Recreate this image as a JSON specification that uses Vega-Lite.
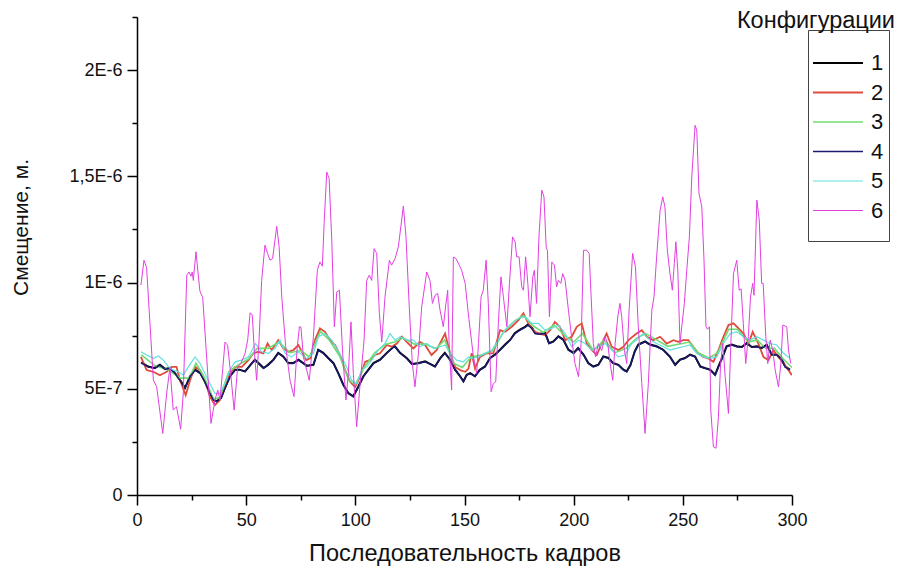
{
"$schema":"https://vega.github.io/schema/vega-lite/v6.json",
"width":655,"height":478,
"autosize":{"type":"none"},
"padding":{"left":137,"top":17,"right":106,"bottom":78},
"background":"white",
"title":{"text":"Конфигурации","anchor":"end","frame":"group","dx":103,"offset":-16,"fontSize":23.5,"font":"Liberation Sans","fontWeight":"normal","color":"#111111"},
"data":{"values":[
{"s":"1","x":2,"y":6.25e-7},{"s":"1","x":5,"y":6.05e-7},{"s":"1","x":8,"y":5.98e-7},{"s":"1","x":10.5,"y":6.13e-7},{"s":"1","x":13,"y":5.93e-7},{"s":"1","x":15,"y":5.98e-7},{"s":"1","x":17.4,"y":5.74e-7},{"s":"1","x":19.7,"y":5.42e-7},{"s":"1","x":22,"y":5.04e-7},{"s":"1","x":24.3,"y":5.59e-7},{"s":"1","x":26.6,"y":5.9e-7},{"s":"1","x":29,"y":5.74e-7},{"s":"1","x":31,"y":5.35e-7},{"s":"1","x":33.4,"y":4.8e-7},{"s":"1","x":35,"y":4.49e-7},{"s":"1","x":36.5,"y":4.41e-7},{"s":"1","x":38.5,"y":4.57e-7},{"s":"1","x":40.3,"y":5.04e-7},{"s":"1","x":42.6,"y":5.59e-7},{"s":"1","x":45,"y":5.9e-7},{"s":"1","x":47,"y":5.9e-7},{"s":"1","x":49.5,"y":5.82e-7},{"s":"1","x":52,"y":6.13e-7},{"s":"1","x":54,"y":6.37e-7},{"s":"1","x":56,"y":6.18e-7},{"s":"1","x":58,"y":5.98e-7},{"s":"1","x":60,"y":6.13e-7},{"s":"1","x":62.5,"y":6.37e-7},{"s":"1","x":64.7,"y":6.69e-7},{"s":"1","x":67,"y":6.52e-7},{"s":"1","x":69.3,"y":6.21e-7},{"s":"1","x":71.6,"y":6.21e-7},{"s":"1","x":74,"y":6.37e-7},{"s":"1","x":77.7,"y":6.09e-7},{"s":"1","x":80.8,"y":6.13e-7},{"s":"1","x":83,"y":6.84e-7},{"s":"1","x":85.3,"y":6.69e-7},{"s":"1","x":87.6,"y":6.45e-7},{"s":"1","x":90,"y":6.21e-7},{"s":"1","x":92.2,"y":5.74e-7},{"s":"1","x":94.5,"y":5.19e-7},{"s":"1","x":96.8,"y":4.8e-7},{"s":"1","x":99,"y":4.65e-7},{"s":"1","x":101.4,"y":5.11e-7},{"s":"1","x":103.7,"y":5.59e-7},{"s":"1","x":106,"y":5.9e-7},{"s":"1","x":108.3,"y":6.21e-7},{"s":"1","x":111.3,"y":6.37e-7},{"s":"1","x":114.4,"y":6.69e-7},{"s":"1","x":118,"y":7.02e-7},{"s":"1","x":120.5,"y":6.69e-7},{"s":"1","x":123.5,"y":6.45e-7},{"s":"1","x":126,"y":6.17e-7},{"s":"1","x":129,"y":6.21e-7},{"s":"1","x":132,"y":6.29e-7},{"s":"1","x":134,"y":6.18e-7},{"s":"1","x":136.5,"y":6.05e-7},{"s":"1","x":139,"y":6.45e-7},{"s":"1","x":141,"y":6.69e-7},{"s":"1","x":143.4,"y":6.37e-7},{"s":"1","x":145.7,"y":5.9e-7},{"s":"1","x":148,"y":5.59e-7},{"s":"1","x":149.5,"y":5.35e-7},{"s":"1","x":151,"y":5.66e-7},{"s":"1","x":152.6,"y":5.74e-7},{"s":"1","x":154.8,"y":5.59e-7},{"s":"1","x":157,"y":5.9e-7},{"s":"1","x":159.4,"y":6.05e-7},{"s":"1","x":161.7,"y":6.45e-7},{"s":"1","x":164,"y":6.61e-7},{"s":"1","x":166.3,"y":6.84e-7},{"s":"1","x":168.6,"y":7.08e-7},{"s":"1","x":171,"y":7.31e-7},{"s":"1","x":173,"y":7.62e-7},{"s":"1","x":175.4,"y":7.78e-7},{"s":"1","x":177.7,"y":7.91e-7},{"s":"1","x":179,"y":8.02e-7},{"s":"1","x":181,"y":7.86e-7},{"s":"1","x":182.3,"y":7.62e-7},{"s":"1","x":184.6,"y":7.59e-7},{"s":"1","x":187,"y":7.62e-7},{"s":"1","x":188.7,"y":7.15e-7},{"s":"1","x":190.7,"y":7.23e-7},{"s":"1","x":193,"y":7.47e-7},{"s":"1","x":195.3,"y":7.31e-7},{"s":"1","x":197.6,"y":6.84e-7},{"s":"1","x":200,"y":6.69e-7},{"s":"1","x":202,"y":6.92e-7},{"s":"1","x":204.5,"y":6.61e-7},{"s":"1","x":206.7,"y":6.21e-7},{"s":"1","x":209,"y":6.05e-7},{"s":"1","x":211.3,"y":6.13e-7},{"s":"1","x":213.6,"y":6.52e-7},{"s":"1","x":216,"y":6.45e-7},{"s":"1","x":218,"y":6.21e-7},{"s":"1","x":220.5,"y":6.13e-7},{"s":"1","x":222.8,"y":5.9e-7},{"s":"1","x":224.3,"y":5.82e-7},{"s":"1","x":226,"y":6.12e-7},{"s":"1","x":228,"y":6.77e-7},{"s":"1","x":229.6,"y":7.08e-7},{"s":"1","x":232.7,"y":7.23e-7},{"s":"1","x":235,"y":7.08e-7},{"s":"1","x":238,"y":7.0e-7},{"s":"1","x":241,"y":6.84e-7},{"s":"1","x":244,"y":6.52e-7},{"s":"1","x":246.5,"y":6.13e-7},{"s":"1","x":248.7,"y":6.37e-7},{"s":"1","x":251,"y":6.45e-7},{"s":"1","x":253.3,"y":6.61e-7},{"s":"1","x":255.6,"y":6.52e-7},{"s":"1","x":258,"y":6.05e-7},{"s":"1","x":260,"y":5.98e-7},{"s":"1","x":262.5,"y":5.9e-7},{"s":"1","x":264.8,"y":5.66e-7},{"s":"1","x":266.3,"y":6.05e-7},{"s":"1","x":268.3,"y":6.52e-7},{"s":"1","x":270,"y":7.0e-7},{"s":"1","x":272.4,"y":7.08e-7},{"s":"1","x":274.7,"y":7.0e-7},{"s":"1","x":277,"y":6.97e-7},{"s":"1","x":279.3,"y":7.15e-7},{"s":"1","x":281.6,"y":6.97e-7},{"s":"1","x":284,"y":7.0e-7},{"s":"1","x":286,"y":6.92e-7},{"s":"1","x":288.4,"y":7.08e-7},{"s":"1","x":290.7,"y":6.61e-7},{"s":"1","x":293,"y":6.61e-7},{"s":"1","x":295.3,"y":6.37e-7},{"s":"1","x":297,"y":6.05e-7},{"s":"1","x":299,"y":5.9e-7},
{"s":"2","x":1.8,"y":6.5e-7},{"s":"2","x":4.4,"y":5.88e-7},{"s":"2","x":7.5,"y":5.8e-7},{"s":"2","x":10.5,"y":5.64e-7},{"s":"2","x":13.6,"y":5.8e-7},{"s":"2","x":15.9,"y":6.03e-7},{"s":"2","x":18.1,"y":6.03e-7},{"s":"2","x":19.7,"y":5.4e-7},{"s":"2","x":22.3,"y":4.7e-7},{"s":"2","x":24.3,"y":5.4e-7},{"s":"2","x":26.6,"y":6.03e-7},{"s":"2","x":28.9,"y":5.88e-7},{"s":"2","x":31.1,"y":5.4e-7},{"s":"2","x":33.4,"y":4.63e-7},{"s":"2","x":35.7,"y":4.23e-7},{"s":"2","x":38,"y":4.47e-7},{"s":"2","x":40.3,"y":5.09e-7},{"s":"2","x":42.6,"y":5.72e-7},{"s":"2","x":44.9,"y":6.03e-7},{"s":"2","x":48,"y":6.03e-7},{"s":"2","x":51,"y":6.35e-7},{"s":"2","x":53.3,"y":6.67e-7},{"s":"2","x":55.6,"y":6.74e-7},{"s":"2","x":57.9,"y":6.67e-7},{"s":"2","x":59.8,"y":7.13e-7},{"s":"2","x":61.7,"y":6.82e-7},{"s":"2","x":64.7,"y":7.29e-7},{"s":"2","x":67,"y":6.9e-7},{"s":"2","x":69.3,"y":6.74e-7},{"s":"2","x":71.6,"y":6.82e-7},{"s":"2","x":73.9,"y":7.06e-7},{"s":"2","x":75.5,"y":6.75e-7},{"s":"2","x":77.5,"y":6.35e-7},{"s":"2","x":79.3,"y":6.43e-7},{"s":"2","x":81.5,"y":7.29e-7},{"s":"2","x":83.8,"y":7.84e-7},{"s":"2","x":86.1,"y":7.68e-7},{"s":"2","x":88.4,"y":7.29e-7},{"s":"2","x":90.7,"y":7.06e-7},{"s":"2","x":93,"y":6.59e-7},{"s":"2","x":95.3,"y":5.88e-7},{"s":"2","x":97.6,"y":5.33e-7},{"s":"2","x":99.9,"y":5.09e-7},{"s":"2","x":102.2,"y":5.57e-7},{"s":"2","x":104.5,"y":6.27e-7},{"s":"2","x":106.7,"y":6.35e-7},{"s":"2","x":109,"y":6.59e-7},{"s":"2","x":111.3,"y":6.67e-7},{"s":"2","x":114.4,"y":7.06e-7},{"s":"2","x":116.7,"y":6.98e-7},{"s":"2","x":119,"y":7.13e-7},{"s":"2","x":121.3,"y":7.45e-7},{"s":"2","x":123.5,"y":7.21e-7},{"s":"2","x":126.6,"y":6.9e-7},{"s":"2","x":129.6,"y":7.21e-7},{"s":"2","x":131.9,"y":7.06e-7},{"s":"2","x":134.9,"y":6.59e-7},{"s":"2","x":137.2,"y":6.82e-7},{"s":"2","x":141.1,"y":7.6e-7},{"s":"2","x":143.4,"y":6.67e-7},{"s":"2","x":145.7,"y":6.03e-7},{"s":"2","x":148,"y":5.88e-7},{"s":"2","x":150.3,"y":5.8e-7},{"s":"2","x":151.8,"y":5.95e-7},{"s":"2","x":153.3,"y":6.67e-7},{"s":"2","x":154.8,"y":5.96e-7},{"s":"2","x":157.1,"y":6.5e-7},{"s":"2","x":160.1,"y":6.67e-7},{"s":"2","x":163.2,"y":6.67e-7},{"s":"2","x":166.3,"y":7.76e-7},{"s":"2","x":168.6,"y":7.68e-7},{"s":"2","x":171.6,"y":7.92e-7},{"s":"2","x":174.7,"y":8.23e-7},{"s":"2","x":177,"y":8.55e-7},{"s":"2","x":179.2,"y":8.08e-7},{"s":"2","x":181.5,"y":7.76e-7},{"s":"2","x":183.8,"y":7.6e-7},{"s":"2","x":186.9,"y":7.53e-7},{"s":"2","x":189.2,"y":7.76e-7},{"s":"2","x":191.4,"y":8.15e-7},{"s":"2","x":193.7,"y":7.92e-7},{"s":"2","x":196.1,"y":7.29e-7},{"s":"2","x":199.1,"y":7.45e-7},{"s":"2","x":201.4,"y":7.92e-7},{"s":"2","x":203.7,"y":8.08e-7},{"s":"2","x":206,"y":7.13e-7},{"s":"2","x":208.3,"y":6.82e-7},{"s":"2","x":210.6,"y":6.59e-7},{"s":"2","x":212.8,"y":7.13e-7},{"s":"2","x":215.1,"y":7.6e-7},{"s":"2","x":217.4,"y":6.98e-7},{"s":"2","x":220.5,"y":6.82e-7},{"s":"2","x":222.8,"y":6.98e-7},{"s":"2","x":225.1,"y":7.29e-7},{"s":"2","x":228.8,"y":7.6e-7},{"s":"2","x":231.2,"y":7.76e-7},{"s":"2","x":233.5,"y":7.45e-7},{"s":"2","x":236.5,"y":7.29e-7},{"s":"2","x":239.6,"y":7.45e-7},{"s":"2","x":242.6,"y":7.13e-7},{"s":"2","x":245.7,"y":7.29e-7},{"s":"2","x":247.9,"y":7.21e-7},{"s":"2","x":250.2,"y":7.29e-7},{"s":"2","x":252.5,"y":7.29e-7},{"s":"2","x":254.8,"y":6.98e-7},{"s":"2","x":257.1,"y":6.67e-7},{"s":"2","x":259.4,"y":6.5e-7},{"s":"2","x":261.7,"y":6.43e-7},{"s":"2","x":264,"y":6.27e-7},{"s":"2","x":266.3,"y":6.82e-7},{"s":"2","x":268.6,"y":7.45e-7},{"s":"2","x":270.9,"y":8.0e-7},{"s":"2","x":273.2,"y":8.08e-7},{"s":"2","x":275.5,"y":7.84e-7},{"s":"2","x":277.8,"y":7.6e-7},{"s":"2","x":280.1,"y":7.13e-7},{"s":"2","x":282,"y":7.68e-7},{"s":"2","x":284.6,"y":7.13e-7},{"s":"2","x":286.9,"y":6.5e-7},{"s":"2","x":289.2,"y":6.35e-7},{"s":"2","x":291.5,"y":6.82e-7},{"s":"2","x":293.8,"y":6.5e-7},{"s":"2","x":296.1,"y":6.19e-7},{"s":"2","x":298.4,"y":5.88e-7},{"s":"2","x":299.9,"y":5.64e-7},
{"s":"3","x":2,"y":6.6e-7},{"s":"3","x":8,"y":6.1e-7},{"s":"3","x":14,"y":5.9e-7},{"s":"3","x":20,"y":5.5e-7},{"s":"3","x":24,"y":5.5e-7},{"s":"3","x":27,"y":6.2e-7},{"s":"3","x":31,"y":5.5e-7},{"s":"3","x":35,"y":4.5e-7},{"s":"3","x":38,"y":4.6e-7},{"s":"3","x":42,"y":5.8e-7},{"s":"3","x":46,"y":6.1e-7},{"s":"3","x":51,"y":6.4e-7},{"s":"3","x":55,"y":6.9e-7},{"s":"3","x":60,"y":6.9e-7},{"s":"3","x":65,"y":7.2e-7},{"s":"3","x":70,"y":6.7e-7},{"s":"3","x":75,"y":6.8e-7},{"s":"3","x":79,"y":6.5e-7},{"s":"3","x":84,"y":7.7e-7},{"s":"3","x":88,"y":7.3e-7},{"s":"3","x":93,"y":6.5e-7},{"s":"3","x":97,"y":5.4e-7},{"s":"3","x":100,"y":5.2e-7},{"s":"3","x":104,"y":6.0e-7},{"s":"3","x":109,"y":6.7e-7},{"s":"3","x":114,"y":7.1e-7},{"s":"3","x":118,"y":7.2e-7},{"s":"3","x":122,"y":7.4e-7},{"s":"3","x":127,"y":7.1e-7},{"s":"3","x":132,"y":7.1e-7},{"s":"3","x":137,"y":6.9e-7},{"s":"3","x":141,"y":7.3e-7},{"s":"3","x":145,"y":6.2e-7},{"s":"3","x":149,"y":6.0e-7},{"s":"3","x":153,"y":6.5e-7},{"s":"3","x":158,"y":6.6e-7},{"s":"3","x":163,"y":6.8e-7},{"s":"3","x":168,"y":7.7e-7},{"s":"3","x":173,"y":8.2e-7},{"s":"3","x":177,"y":8.45e-7},{"s":"3","x":181,"y":8.0e-7},{"s":"3","x":186,"y":7.65e-7},{"s":"3","x":191,"y":8.0e-7},{"s":"3","x":196,"y":7.5e-7},{"s":"3","x":200,"y":7.2e-7},{"s":"3","x":204,"y":7.6e-7},{"s":"3","x":209,"y":6.8e-7},{"s":"3","x":214,"y":7.3e-7},{"s":"3","x":219,"y":6.7e-7},{"s":"3","x":224,"y":6.9e-7},{"s":"3","x":229,"y":7.4e-7},{"s":"3","x":233,"y":7.6e-7},{"s":"3","x":238,"y":7.3e-7},{"s":"3","x":243,"y":7.0e-7},{"s":"3","x":248,"y":7.1e-7},{"s":"3","x":253,"y":7.2e-7},{"s":"3","x":257,"y":6.7e-7},{"s":"3","x":262,"y":6.45e-7},{"s":"3","x":266,"y":6.7e-7},{"s":"3","x":271,"y":7.8e-7},{"s":"3","x":275,"y":7.8e-7},{"s":"3","x":280,"y":7.2e-7},{"s":"3","x":284,"y":7.3e-7},{"s":"3","x":288,"y":6.9e-7},{"s":"3","x":292,"y":6.9e-7},{"s":"3","x":296,"y":6.4e-7},{"s":"3","x":300,"y":6.0e-7},
{"s":"4","x":1.8,"y":6.22e-7},{"s":"4","x":5.2,"y":6.03e-7},{"s":"4","x":8.2,"y":5.96e-7},{"s":"4","x":10.5,"y":6.11e-7},{"s":"4","x":12.8,"y":5.91e-7},{"s":"4","x":15.1,"y":5.96e-7},{"s":"4","x":17.4,"y":5.72e-7},{"s":"4","x":19.7,"y":5.4e-7},{"s":"4","x":22,"y":5.02e-7},{"s":"4","x":24.3,"y":5.57e-7},{"s":"4","x":26.6,"y":5.88e-7},{"s":"4","x":28.9,"y":5.72e-7},{"s":"4","x":31.1,"y":5.33e-7},{"s":"4","x":33.4,"y":4.78e-7},{"s":"4","x":35,"y":4.47e-7},{"s":"4","x":36.5,"y":4.39e-7},{"s":"4","x":38.5,"y":4.55e-7},{"s":"4","x":40.3,"y":5.02e-7},{"s":"4","x":42.6,"y":5.57e-7},{"s":"4","x":44.9,"y":5.88e-7},{"s":"4","x":47.2,"y":5.88e-7},{"s":"4","x":49.5,"y":5.8e-7},{"s":"4","x":51.8,"y":6.11e-7},{"s":"4","x":54,"y":6.35e-7},{"s":"4","x":55.9,"y":6.16e-7},{"s":"4","x":57.9,"y":5.96e-7},{"s":"4","x":60.2,"y":6.11e-7},{"s":"4","x":62.5,"y":6.35e-7},{"s":"4","x":64.7,"y":6.67e-7},{"s":"4","x":67,"y":6.5e-7},{"s":"4","x":69.3,"y":6.19e-7},{"s":"4","x":71.6,"y":6.19e-7},{"s":"4","x":73.9,"y":6.35e-7},{"s":"4","x":76.2,"y":6.19e-7},{"s":"4","x":77.7,"y":6.07e-7},{"s":"4","x":80.8,"y":6.11e-7},{"s":"4","x":83,"y":6.82e-7},{"s":"4","x":85.3,"y":6.67e-7},{"s":"4","x":87.6,"y":6.43e-7},{"s":"4","x":89.9,"y":6.19e-7},{"s":"4","x":92.2,"y":5.72e-7},{"s":"4","x":94.5,"y":5.17e-7},{"s":"4","x":96.8,"y":4.78e-7},{"s":"4","x":99.1,"y":4.63e-7},{"s":"4","x":101.4,"y":5.09e-7},{"s":"4","x":103.7,"y":5.57e-7},{"s":"4","x":106,"y":5.88e-7},{"s":"4","x":108.3,"y":6.19e-7},{"s":"4","x":111.3,"y":6.35e-7},{"s":"4","x":114.4,"y":6.67e-7},{"s":"4","x":117.9,"y":7.0e-7},{"s":"4","x":120.5,"y":6.67e-7},{"s":"4","x":123.5,"y":6.43e-7},{"s":"4","x":125.8,"y":6.15e-7},{"s":"4","x":128.9,"y":6.19e-7},{"s":"4","x":131.9,"y":6.27e-7},{"s":"4","x":134.2,"y":6.16e-7},{"s":"4","x":136.5,"y":6.03e-7},{"s":"4","x":138.8,"y":6.43e-7},{"s":"4","x":141.1,"y":6.67e-7},{"s":"4","x":143.4,"y":6.35e-7},{"s":"4","x":145.7,"y":5.88e-7},{"s":"4","x":148,"y":5.57e-7},{"s":"4","x":149.5,"y":5.33e-7},{"s":"4","x":151,"y":5.64e-7},{"s":"4","x":152.6,"y":5.72e-7},{"s":"4","x":154.8,"y":5.57e-7},{"s":"4","x":157.1,"y":5.88e-7},{"s":"4","x":159.4,"y":6.03e-7},{"s":"4","x":161.7,"y":6.43e-7},{"s":"4","x":164,"y":6.59e-7},{"s":"4","x":166.3,"y":6.82e-7},{"s":"4","x":168.6,"y":7.06e-7},{"s":"4","x":170.8,"y":7.29e-7},{"s":"4","x":173.2,"y":7.6e-7},{"s":"4","x":175.4,"y":7.76e-7},{"s":"4","x":177.7,"y":7.89e-7},{"s":"4","x":179.2,"y":8.0e-7},{"s":"4","x":180.8,"y":7.84e-7},{"s":"4","x":182.3,"y":7.6e-7},{"s":"4","x":184.6,"y":7.57e-7},{"s":"4","x":186.9,"y":7.6e-7},{"s":"4","x":188.7,"y":7.13e-7},{"s":"4","x":190.7,"y":7.21e-7},{"s":"4","x":193,"y":7.45e-7},{"s":"4","x":195.3,"y":7.29e-7},{"s":"4","x":197.6,"y":6.82e-7},{"s":"4","x":199.9,"y":6.67e-7},{"s":"4","x":202.2,"y":6.9e-7},{"s":"4","x":204.5,"y":6.59e-7},{"s":"4","x":206.7,"y":6.19e-7},{"s":"4","x":209,"y":6.03e-7},{"s":"4","x":211.3,"y":6.11e-7},{"s":"4","x":213.6,"y":6.5e-7},{"s":"4","x":215.9,"y":6.43e-7},{"s":"4","x":218.2,"y":6.19e-7},{"s":"4","x":220.5,"y":6.11e-7},{"s":"4","x":222.8,"y":5.88e-7},{"s":"4","x":224.3,"y":5.8e-7},{"s":"4","x":226,"y":6.1e-7},{"s":"4","x":228,"y":6.75e-7},{"s":"4","x":229.6,"y":7.06e-7},{"s":"4","x":232.7,"y":7.21e-7},{"s":"4","x":235,"y":7.06e-7},{"s":"4","x":238,"y":6.98e-7},{"s":"4","x":241.1,"y":6.82e-7},{"s":"4","x":244.2,"y":6.5e-7},{"s":"4","x":246.5,"y":6.11e-7},{"s":"4","x":248.7,"y":6.35e-7},{"s":"4","x":251,"y":6.43e-7},{"s":"4","x":253.3,"y":6.59e-7},{"s":"4","x":255.6,"y":6.5e-7},{"s":"4","x":257.9,"y":6.03e-7},{"s":"4","x":260.2,"y":5.96e-7},{"s":"4","x":262.5,"y":5.88e-7},{"s":"4","x":264.8,"y":5.64e-7},{"s":"4","x":266.3,"y":6.03e-7},{"s":"4","x":268.3,"y":6.5e-7},{"s":"4","x":270.1,"y":6.98e-7},{"s":"4","x":272.4,"y":7.06e-7},{"s":"4","x":274.7,"y":6.98e-7},{"s":"4","x":277,"y":6.95e-7},{"s":"4","x":279.3,"y":7.13e-7},{"s":"4","x":281.6,"y":6.95e-7},{"s":"4","x":283.9,"y":6.98e-7},{"s":"4","x":286.2,"y":6.9e-7},{"s":"4","x":288.4,"y":7.06e-7},{"s":"4","x":290.7,"y":6.59e-7},{"s":"4","x":293,"y":6.59e-7},{"s":"4","x":295.3,"y":6.35e-7},{"s":"4","x":296.8,"y":6.03e-7},{"s":"4","x":299.1,"y":5.88e-7},
{"s":"5","x":1.8,"y":6.74e-7},{"s":"5","x":4.4,"y":6.59e-7},{"s":"5","x":7.5,"y":6.43e-7},{"s":"5","x":9.8,"y":6.54e-7},{"s":"5","x":12.1,"y":6.35e-7},{"s":"5","x":14.4,"y":6.03e-7},{"s":"5","x":16.6,"y":5.88e-7},{"s":"5","x":18.9,"y":5.8e-7},{"s":"5","x":21.2,"y":5.64e-7},{"s":"5","x":23.5,"y":6.03e-7},{"s":"5","x":26.6,"y":6.5e-7},{"s":"5","x":28.9,"y":6.19e-7},{"s":"5","x":31.1,"y":5.72e-7},{"s":"5","x":33.4,"y":5.25e-7},{"s":"5","x":35.7,"y":4.78e-7},{"s":"5","x":38,"y":4.78e-7},{"s":"5","x":40.3,"y":5.25e-7},{"s":"5","x":42.6,"y":5.88e-7},{"s":"5","x":44.9,"y":6.27e-7},{"s":"5","x":48,"y":6.35e-7},{"s":"5","x":51,"y":6.5e-7},{"s":"5","x":54.3,"y":7.13e-7},{"s":"5","x":57.1,"y":6.74e-7},{"s":"5","x":60.2,"y":6.67e-7},{"s":"5","x":63.2,"y":6.9e-7},{"s":"5","x":65.5,"y":7.29e-7},{"s":"5","x":67.8,"y":6.67e-7},{"s":"5","x":70.8,"y":6.5e-7},{"s":"5","x":73.9,"y":6.74e-7},{"s":"5","x":76.2,"y":6.55e-7},{"s":"5","x":77.7,"y":6.43e-7},{"s":"5","x":80.8,"y":6.67e-7},{"s":"5","x":83,"y":7.45e-7},{"s":"5","x":86.1,"y":7.6e-7},{"s":"5","x":89.2,"y":7.29e-7},{"s":"5","x":91.4,"y":6.9e-7},{"s":"5","x":93.7,"y":6.5e-7},{"s":"5","x":96,"y":6.03e-7},{"s":"5","x":98.3,"y":5.4e-7},{"s":"5","x":100.6,"y":5.25e-7},{"s":"5","x":102.9,"y":5.88e-7},{"s":"5","x":105.2,"y":6.03e-7},{"s":"5","x":107.5,"y":6.35e-7},{"s":"5","x":110.5,"y":6.82e-7},{"s":"5","x":113.6,"y":7.13e-7},{"s":"5","x":115.9,"y":7.6e-7},{"s":"5","x":118.2,"y":7.29e-7},{"s":"5","x":120.5,"y":7.45e-7},{"s":"5","x":123.5,"y":7.29e-7},{"s":"5","x":126.6,"y":7.29e-7},{"s":"5","x":129.6,"y":6.98e-7},{"s":"5","x":132.7,"y":7.13e-7},{"s":"5","x":135.8,"y":6.9e-7},{"s":"5","x":138.8,"y":6.98e-7},{"s":"5","x":141.1,"y":7.06e-7},{"s":"5","x":143.4,"y":6.67e-7},{"s":"5","x":146.4,"y":6.35e-7},{"s":"5","x":149.5,"y":6.27e-7},{"s":"5","x":151.8,"y":6.5e-7},{"s":"5","x":153.3,"y":6.43e-7},{"s":"5","x":156.4,"y":6.5e-7},{"s":"5","x":159.4,"y":6.67e-7},{"s":"5","x":162.5,"y":6.82e-7},{"s":"5","x":165.5,"y":7.29e-7},{"s":"5","x":168.6,"y":7.76e-7},{"s":"5","x":171.6,"y":8.08e-7},{"s":"5","x":174.7,"y":8.31e-7},{"s":"5","x":177.7,"y":8.39e-7},{"s":"5","x":180.8,"y":8.08e-7},{"s":"5","x":183.8,"y":8.08e-7},{"s":"5","x":186.9,"y":7.76e-7},{"s":"5","x":189.9,"y":7.84e-7},{"s":"5","x":193,"y":8.0e-7},{"s":"5","x":196.1,"y":7.6e-7},{"s":"5","x":199.1,"y":6.98e-7},{"s":"5","x":202.2,"y":7.29e-7},{"s":"5","x":205.2,"y":7.13e-7},{"s":"5","x":208.3,"y":6.82e-7},{"s":"5","x":211.3,"y":6.98e-7},{"s":"5","x":214.4,"y":7.13e-7},{"s":"5","x":217.4,"y":6.82e-7},{"s":"5","x":220.5,"y":6.5e-7},{"s":"5","x":223.5,"y":6.59e-7},{"s":"5","x":226.6,"y":7.13e-7},{"s":"5","x":228.8,"y":7.29e-7},{"s":"5","x":231.9,"y":7.6e-7},{"s":"5","x":234.9,"y":7.29e-7},{"s":"5","x":238,"y":7.13e-7},{"s":"5","x":241.1,"y":6.98e-7},{"s":"5","x":244.1,"y":6.82e-7},{"s":"5","x":247.1,"y":6.9e-7},{"s":"5","x":250.2,"y":6.98e-7},{"s":"5","x":253.3,"y":7.06e-7},{"s":"5","x":256.3,"y":6.67e-7},{"s":"5","x":259.4,"y":6.5e-7},{"s":"5","x":262.5,"y":6.43e-7},{"s":"5","x":265.5,"y":6.5e-7},{"s":"5","x":268.6,"y":7.13e-7},{"s":"5","x":271.7,"y":7.6e-7},{"s":"5","x":274.7,"y":7.68e-7},{"s":"5","x":277.8,"y":7.45e-7},{"s":"5","x":280.8,"y":7.29e-7},{"s":"5","x":283.9,"y":7.45e-7},{"s":"5","x":286.9,"y":7.29e-7},{"s":"5","x":290,"y":7.13e-7},{"s":"5","x":293,"y":7.06e-7},{"s":"5","x":296.1,"y":6.67e-7},{"s":"5","x":299.1,"y":6.43e-7},
{"s":"6","x":1.8,"y":9.88e-7},{"s":"6","x":3.2,"y":11.05e-7},{"s":"6","x":4.4,"y":10.7e-7},{"s":"6","x":7.5,"y":5.4e-7},{"s":"6","x":9,"y":5.1e-7},{"s":"6","x":11.8,"y":2.9e-7},{"s":"6","x":13.6,"y":4.8e-7},{"s":"6","x":15.1,"y":6.0e-7},{"s":"6","x":16.6,"y":4.0e-7},{"s":"6","x":18.1,"y":4.15e-7},{"s":"6","x":20,"y":3.1e-7},{"s":"6","x":21.2,"y":4.8e-7},{"s":"6","x":22.8,"y":10.35e-7},{"s":"6","x":23.8,"y":10.5e-7},{"s":"6","x":24.7,"y":10.3e-7},{"s":"6","x":25.3,"y":10.5e-7},{"s":"6","x":25.8,"y":10.1e-7},{"s":"6","x":27,"y":11.45e-7},{"s":"6","x":28.8,"y":9.6e-7},{"s":"6","x":30.1,"y":9.3e-7},{"s":"6","x":33.9,"y":3.37e-7},{"s":"6","x":35.7,"y":4.47e-7},{"s":"6","x":37,"y":4.94e-7},{"s":"6","x":38,"y":4.47e-7},{"s":"6","x":39.1,"y":5.72e-7},{"s":"6","x":40.3,"y":7.2e-7},{"s":"6","x":41.5,"y":7.05e-7},{"s":"6","x":42.9,"y":5.72e-7},{"s":"6","x":44.5,"y":4.0e-7},{"s":"6","x":46.1,"y":6.03e-7},{"s":"6","x":47.6,"y":6.2e-7},{"s":"6","x":49.5,"y":6.67e-7},{"s":"6","x":50.7,"y":7.3e-7},{"s":"6","x":51.8,"y":8.58e-7},{"s":"6","x":52.8,"y":8.47e-7},{"s":"6","x":53.8,"y":6.67e-7},{"s":"6","x":54.8,"y":5.4e-7},{"s":"6","x":55.9,"y":7.3e-7},{"s":"6","x":57.1,"y":10.1e-7},{"s":"6","x":58.6,"y":11.76e-7},{"s":"6","x":59.8,"y":11.37e-7},{"s":"6","x":60.9,"y":11.05e-7},{"s":"6","x":62.1,"y":11.13e-7},{"s":"6","x":64,"y":12.65e-7},{"s":"6","x":65.1,"y":11.68e-7},{"s":"6","x":66.3,"y":9.33e-7},{"s":"6","x":68.1,"y":6.98e-7},{"s":"6","x":70.1,"y":5.4e-7},{"s":"6","x":71.9,"y":4.63e-7},{"s":"6","x":73.4,"y":6.98e-7},{"s":"6","x":74.4,"y":7.92e-7},{"s":"6","x":75.1,"y":7.9e-7},{"s":"6","x":76.2,"y":6.5e-7},{"s":"6","x":78.9,"y":5.4e-7},{"s":"6","x":80.8,"y":7.45e-7},{"s":"6","x":82.6,"y":10.58e-7},{"s":"6","x":83.8,"y":10.97e-7},{"s":"6","x":84.9,"y":10.77e-7},{"s":"6","x":85.7,"y":12.78e-7},{"s":"6","x":86.9,"y":15.2e-7},{"s":"6","x":88,"y":14.9e-7},{"s":"6","x":89.2,"y":12.0e-7},{"s":"6","x":90.4,"y":7.92e-7},{"s":"6","x":91.5,"y":9.56e-7},{"s":"6","x":92.7,"y":9.64e-7},{"s":"6","x":94.2,"y":6.67e-7},{"s":"6","x":95.7,"y":4.47e-7},{"s":"6","x":96.8,"y":5.72e-7},{"s":"6","x":98,"y":8.15e-7},{"s":"6","x":99.1,"y":5.72e-7},{"s":"6","x":100.6,"y":3.21e-7},{"s":"6","x":102.2,"y":5.25e-7},{"s":"6","x":104,"y":7.29e-7},{"s":"6","x":105.2,"y":10.1e-7},{"s":"6","x":106.4,"y":10.35e-7},{"s":"6","x":107.5,"y":10.1e-7},{"s":"6","x":108.6,"y":11.6e-7},{"s":"6","x":109.8,"y":11.37e-7},{"s":"6","x":111,"y":8.55e-7},{"s":"6","x":112.1,"y":7.2e-7},{"s":"6","x":113.6,"y":9.33e-7},{"s":"6","x":115.6,"y":11.05e-7},{"s":"6","x":116.6,"y":10.82e-7},{"s":"6","x":118.2,"y":11.13e-7},{"s":"6","x":119.7,"y":11.68e-7},{"s":"6","x":122,"y":13.6e-7},{"s":"6","x":123.2,"y":12.15e-7},{"s":"6","x":124.7,"y":8.86e-7},{"s":"6","x":126.1,"y":6.19e-7},{"s":"6","x":127.3,"y":5.09e-7},{"s":"6","x":128.9,"y":6.67e-7},{"s":"6","x":130.4,"y":8.86e-7},{"s":"6","x":132.7,"y":10.5e-7},{"s":"6","x":134.2,"y":10.1e-7},{"s":"6","x":135.3,"y":9.02e-7},{"s":"6","x":136.5,"y":9.4e-7},{"s":"6","x":137.7,"y":9.49e-7},{"s":"6","x":138.8,"y":8.7e-7},{"s":"6","x":140.3,"y":7.92e-7},{"s":"6","x":141.4,"y":8.94e-7},{"s":"6","x":142.3,"y":9.64e-7},{"s":"6","x":142.9,"y":7.29e-7},{"s":"6","x":144.1,"y":4.94e-7},{"s":"6","x":144.9,"y":11.2e-7},{"s":"6","x":146.1,"y":11.13e-7},{"s":"6","x":147.6,"y":10.82e-7},{"s":"6","x":148.7,"y":10.58e-7},{"s":"6","x":150.3,"y":9.96e-7},{"s":"6","x":152,"y":8.3e-7},{"s":"6","x":154.1,"y":6.5e-7},{"s":"6","x":155.6,"y":5.72e-7},{"s":"6","x":156.4,"y":7.13e-7},{"s":"6","x":157.6,"y":9.33e-7},{"s":"6","x":158.6,"y":9.64e-7},{"s":"6","x":159.9,"y":11.05e-7},{"s":"6","x":160.9,"y":9.02e-7},{"s":"6","x":162.2,"y":4.86e-7},{"s":"6","x":163.2,"y":5.25e-7},{"s":"6","x":164.3,"y":5.33e-7},{"s":"6","x":165.5,"y":8.08e-7},{"s":"6","x":166.7,"y":10.27e-7},{"s":"6","x":167.8,"y":9.33e-7},{"s":"6","x":169.4,"y":7.92e-7},{"s":"6","x":170.6,"y":9.96e-7},{"s":"6","x":172,"y":12.15e-7},{"s":"6","x":173.2,"y":11.92e-7},{"s":"6","x":173.9,"y":11.21e-7},{"s":"6","x":175,"y":11.21e-7},{"s":"6","x":176.2,"y":9.8e-7},{"s":"6","x":177,"y":9.64e-7},{"s":"6","x":178,"y":11.21e-7},{"s":"6","x":179,"y":9.96e-7},{"s":"6","x":180,"y":8.39e-7},{"s":"6","x":181.3,"y":10.27e-7},{"s":"6","x":182,"y":10.58e-7},{"s":"6","x":183,"y":9.02e-7},{"s":"6","x":184.1,"y":12.15e-7},{"s":"6","x":185.4,"y":14.35e-7},{"s":"6","x":186.4,"y":14.03e-7},{"s":"6","x":187.4,"y":11.68e-7},{"s":"6","x":188,"y":11.5e-7},{"s":"6","x":188.9,"y":8.39e-7},{"s":"6","x":190,"y":10.97e-7},{"s":"6","x":191.2,"y":10.82e-7},{"s":"6","x":192.2,"y":9.8e-7},{"s":"6","x":193,"y":10.1e-7},{"s":"6","x":194.1,"y":9.96e-7},{"s":"6","x":195,"y":10.42e-7},{"s":"6","x":196.1,"y":10.1e-7},{"s":"6","x":197.6,"y":8.7e-7},{"s":"6","x":199.4,"y":7.13e-7},{"s":"6","x":200.6,"y":6.19e-7},{"s":"6","x":202.2,"y":5.57e-7},{"s":"6","x":203.4,"y":7.13e-7},{"s":"6","x":204.5,"y":11.52e-7},{"s":"6","x":206,"y":11.52e-7},{"s":"6","x":207.1,"y":11.37e-7},{"s":"6","x":208,"y":9.33e-7},{"s":"6","x":209,"y":7.13e-7},{"s":"6","x":210,"y":6.5e-7},{"s":"6","x":211.3,"y":7.13e-7},{"s":"6","x":212.8,"y":6.8e-7},{"s":"6","x":214.4,"y":7.45e-7},{"s":"6","x":215.6,"y":7.13e-7},{"s":"6","x":216.7,"y":6.19e-7},{"s":"6","x":217.9,"y":5.4e-7},{"s":"6","x":219,"y":7.13e-7},{"s":"6","x":220.2,"y":8.39e-7},{"s":"6","x":221.2,"y":9.02e-7},{"s":"6","x":222,"y":8.39e-7},{"s":"6","x":223.2,"y":6.82e-7},{"s":"6","x":224.3,"y":6.19e-7},{"s":"6","x":225.4,"y":8.7e-7},{"s":"6","x":227,"y":11.37e-7},{"s":"6","x":228.3,"y":10.74e-7},{"s":"6","x":229.6,"y":7.92e-7},{"s":"6","x":231.2,"y":5.25e-7},{"s":"6","x":232.7,"y":2.9e-7},{"s":"6","x":234.2,"y":5.25e-7},{"s":"6","x":235.8,"y":8.7e-7},{"s":"6","x":236.8,"y":9.33e-7},{"s":"6","x":238,"y":11.21e-7},{"s":"6","x":239.6,"y":13.4e-7},{"s":"6","x":240.8,"y":14.03e-7},{"s":"6","x":241.8,"y":13.56e-7},{"s":"6","x":242.9,"y":11.52e-7},{"s":"6","x":244.1,"y":10.43e-7},{"s":"6","x":245.2,"y":9.64e-7},{"s":"6","x":246.1,"y":10.9e-7},{"s":"6","x":246.8,"y":11.92e-7},{"s":"6","x":247.7,"y":10.58e-7},{"s":"6","x":248.7,"y":7.13e-7},{"s":"6","x":249.5,"y":7.92e-7},{"s":"6","x":250.7,"y":9.02e-7},{"s":"6","x":251.8,"y":10.58e-7},{"s":"6","x":253,"y":12.15e-7},{"s":"6","x":254.1,"y":14.97e-7},{"s":"6","x":255.6,"y":17.4e-7},{"s":"6","x":256.4,"y":17.17e-7},{"s":"6","x":257.4,"y":14.19e-7},{"s":"6","x":258.7,"y":13.56e-7},{"s":"6","x":259.7,"y":11.05e-7},{"s":"6","x":260.6,"y":7.92e-7},{"s":"6","x":261.3,"y":7.8e-7},{"s":"6","x":262.2,"y":7.92e-7},{"s":"6","x":262.8,"y":4.0e-7},{"s":"6","x":264,"y":2.27e-7},{"s":"6","x":265.2,"y":2.2e-7},{"s":"6","x":266.3,"y":3.68e-7},{"s":"6","x":267.3,"y":6.19e-7},{"s":"6","x":268.3,"y":7.13e-7},{"s":"6","x":269.4,"y":5.57e-7},{"s":"6","x":270.9,"y":3.84e-7},{"s":"6","x":272,"y":7.13e-7},{"s":"6","x":273.2,"y":10.43e-7},{"s":"6","x":274.7,"y":11.05e-7},{"s":"6","x":275.8,"y":9.64e-7},{"s":"6","x":276.7,"y":9.7e-7},{"s":"6","x":277.7,"y":8.08e-7},{"s":"6","x":278.8,"y":6.19e-7},{"s":"6","x":280,"y":7.45e-7},{"s":"6","x":281,"y":9.33e-7},{"s":"6","x":282,"y":9.96e-7},{"s":"6","x":282.6,"y":9.4e-7},{"s":"6","x":283.9,"y":13.88e-7},{"s":"6","x":285,"y":12.94e-7},{"s":"6","x":286.1,"y":9.96e-7},{"s":"6","x":286.8,"y":9.96e-7},{"s":"6","x":288,"y":7.45e-7},{"s":"6","x":288.9,"y":6.19e-7},{"s":"6","x":290,"y":7.29e-7},{"s":"6","x":291.2,"y":6.82e-7},{"s":"6","x":292.3,"y":5.88e-7},{"s":"6","x":293.8,"y":5.09e-7},{"s":"6","x":294.9,"y":6.19e-7},{"s":"6","x":295.8,"y":8.0e-7},{"s":"6","x":297.6,"y":7.92e-7},{"s":"6","x":298.4,"y":6.82e-7},{"s":"6","x":299.4,"y":6.19e-7}
]},
"mark":{"type":"line","clip":true},
"encoding":{
"x":{"field":"x","type":"quantitative","scale":{"domain":[0,300],"nice":false,"zero":false},
 "axis":{"values":[0,25,50,75,100,125,150,175,200,225,250,275,300],"labelExpr":"datum.value % 50 === 0 ? format(datum.value, 'd') : ''","tickSize":{"condition":{"test":"datum.value % 50 === 0","value":10},"value":5},"grid":false,"domainColor":"#000000","domainWidth":1.5,"tickColor":"#000000","tickWidth":1.5,"labelFont":"Liberation Sans","labelFontSize":18,"labelColor":"#111111","labelPadding":6,"labelFlush":false,"title":"Последовательность кадров","titleFont":"Liberation Sans","titleFontSize":23.5,"titleFontWeight":"normal","titleColor":"#111111","titlePadding":12}},
"y":{"field":"y","type":"quantitative","scale":{"domain":[0,2.25e-6],"nice":false},
 "axis":{"values":[0,2.5e-7,5e-7,7.5e-7,1e-6,1.25e-6,1.5e-6,1.75e-6,2e-6,2.25e-6],"labelExpr":"round(datum.value*1e7)==0 ? '0' : round(datum.value*1e7)==5 ? '5E-7' : round(datum.value*1e7)==10 ? '1E-6' : round(datum.value*1e7)==15 ? '1,5E-6' : round(datum.value*1e7)==20 ? '2E-6' : ''","tickSize":{"condition":{"test":"round(datum.value*1e7) % 5 === 0","value":10},"value":5},"grid":false,"domainColor":"#000000","domainWidth":1.5,"tickColor":"#000000","tickWidth":1.5,"labelFont":"Liberation Sans","labelFontSize":18,"labelColor":"#111111","labelPadding":5,"labelFlush":false,"title":"Смещение, м.","titleFont":"Liberation Sans","titleFontSize":21,"titleFontWeight":"normal","titleColor":"#111111","titlePadding":37,"titleY":210}},
"color":{"field":"s","type":"nominal","scale":{"domain":["1","2","3","4","5","6"],"range":["#000000","#e04a3a","#70dd70","#1a1a70","#60e0e0","#e23fe2"]},
 "legend":{"orient":"none","legendX":671,"legendY":13,"title":" ","titleFontSize":10,"titlePadding":7,"symbolType":"M-1.222,0H4.333","symbolSize":324,"symbolStrokeWidth":1.8,"rowPadding":7.5,"padding":5,"strokeColor":"#444444","fillColor":"white","labelFont":"Liberation Sans","labelFontSize":22,"labelOffset":36,"labelColor":"#111111","labelExpr":"datum.label == '6' ? ['6', ''] : datum.label"}},
"strokeWidth":{"field":"s","type":"ordinal","scale":{"domain":["1","2","3","4","5","6"],"range":[2,1,1.5,2.4,1.4,1.1]},"legend":null}
},
"config":{"view":{"stroke":null},"style":{"guide-label":{"lineHeight":14}}}
}
